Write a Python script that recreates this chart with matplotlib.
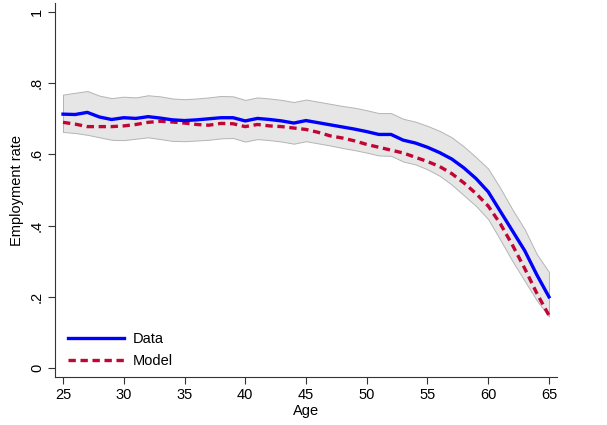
import numpy as np
import matplotlib
matplotlib.use("Agg")
import matplotlib.pyplot as plt


# ==========================
# Data
# ==========================

age = list(range(25, 66))

data_rate = [
    0.713, 0.712, 0.718, 0.705, 0.698, 0.703, 0.701, 0.706, 0.702, 0.697,
    0.695, 0.697, 0.700, 0.703, 0.703, 0.694, 0.701, 0.698, 0.694, 0.688,
    0.695, 0.689, 0.683, 0.677, 0.671, 0.664, 0.656, 0.656, 0.640, 0.632,
    0.620, 0.605, 0.587, 0.562, 0.532, 0.495, 0.440, 0.385, 0.330, 0.262,
    0.200,
]

model_rate = [
    0.690, 0.685, 0.678, 0.678, 0.678, 0.680, 0.684, 0.690, 0.693, 0.691,
    0.688, 0.684, 0.682, 0.687, 0.686, 0.678, 0.684, 0.680, 0.678, 0.674,
    0.670, 0.662, 0.652, 0.646, 0.638, 0.628, 0.620, 0.612, 0.604, 0.592,
    0.580, 0.566, 0.546, 0.520, 0.490, 0.455, 0.405, 0.345, 0.280, 0.210,
    0.148,
]

band_hi = [
    0.768, 0.773, 0.778, 0.765, 0.758, 0.762, 0.760, 0.766, 0.763, 0.757,
    0.755, 0.757, 0.760, 0.764, 0.763, 0.753, 0.760, 0.757, 0.753, 0.747,
    0.754, 0.748, 0.742, 0.736, 0.731, 0.724, 0.716, 0.716, 0.700, 0.692,
    0.680, 0.666, 0.648, 0.622, 0.592, 0.560, 0.505, 0.445, 0.390, 0.320,
    0.270,
]

band_lo = [
    0.663, 0.660, 0.655, 0.648, 0.641, 0.640, 0.644, 0.648, 0.643, 0.638,
    0.637, 0.639, 0.641, 0.645, 0.646, 0.636, 0.643, 0.640, 0.636, 0.630,
    0.637, 0.631, 0.625, 0.618, 0.612, 0.605, 0.597, 0.596, 0.580, 0.572,
    0.558, 0.540, 0.515, 0.485, 0.455, 0.418, 0.360, 0.300, 0.245, 0.190,
    0.145,
]

x_ticks = [25, 30, 35, 40, 45, 50, 55, 60, 65]
y_ticks = [0, 0.2, 0.4, 0.6, 0.8, 1.0]
y_tick_labels = ["0", ".2", ".4", ".6", ".8", "1"]


# ==========================
# Plot
# ==========================

plt.rcParams["font.family"] = ["Liberation Sans", "DejaVu Sans"]

fig = plt.figure(figsize=(6.07, 4.25), dpi=100)
ax = fig.add_axes([0.0906, 0.1129, 0.827, 0.880])

ax.fill_between(
    age, band_lo, band_hi,
    facecolor="#e6e6e6", edgecolor="#b4b4b4", linewidth=0.7, zorder=1
)

ax.plot(age, data_rate, color="#0000ff", linewidth=2.4,
        label="Data", zorder=3)
ax.plot(age, model_rate, color="#c10534", linewidth=2.4,
        linestyle=(0, (2.2, 1.4)), label="Model", zorder=2)

ax.set_xlim(24.34, 65.66)
ax.set_ylim(-0.025, 1.025)

ax.set_xticks(x_ticks)
ax.set_yticks(y_ticks)
ax.set_yticklabels(y_tick_labels, rotation=90, va="center")

ax.tick_params(axis="both", labelsize=10.5, length=5, width=0.8,
               color="#333333", pad=3)

ax.spines["top"].set_visible(False)
ax.spines["right"].set_visible(False)
ax.spines["left"].set_color("#333333")
ax.spines["bottom"].set_color("#333333")

ax.set_xlabel("Age", fontsize=10.5, labelpad=1)
ax.set_ylabel("Employment rate", fontsize=10.5, labelpad=4)

ax.legend(
    loc="lower left", bbox_to_anchor=(0.0, -0.012),
    frameon=False, fontsize=10.5, handlelength=3.8,
    handletextpad=0.6, labelspacing=0.55
)

fig.savefig("out.png", dpi=100)
